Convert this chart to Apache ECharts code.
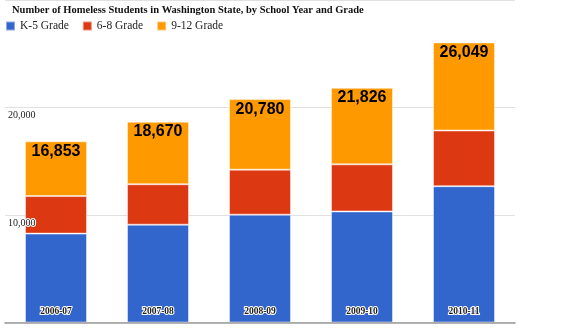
<!DOCTYPE html>
<html><head><meta charset="utf-8">
<script src="https://cdn.jsdelivr.net/npm/echarts@6/dist/echarts.min.js"></script>
<style>html,body{margin:0;padding:0;background:#fff}#c{width:576px;height:329px}</style>
</head><body><div id="c"></div>
<script>
const categories = ['2006-07','2007-08','2008-09','2009-10','2010-11'];
const k5 = [8270, 9100, 10030, 10330, 12680];
const g68 = [3490, 3760, 4190, 4380, 5180];
const g912 = [5093, 5810, 6560, 7116, 8189];
const totals = [16853, 18670, 20780, 21826, 26049];
const seriesNames = ['K-5 Grade','6-8 Grade','9-12 Grade'];
const colors = ['#3366cc','#dc3912','#ff9900'];

const chart = echarts.init(document.getElementById('c'));
const serif = '"Liberation Serif", "DejaVu Serif", serif';
const fmt = v => v.toLocaleString('en-US');
const seg = (name, data, color, extra) => Object.assign({
  name, type: 'bar', stack: 'g', data, barWidth: 62,
  itemStyle: { color, borderColor: 'rgba(255,255,255,0.45)', borderWidth: 1 },
  emphasis: { disabled: true }
}, extra || {});
const yBase = {
  type: 'value', min: 0, max: 30000, interval: 10000,
  axisLine: { show: false }, axisTick: { show: false }
};
chart.setOption({
  animation: false,
  color: colors,
  title: {
    text: 'Number of Homeless Students in Washington State, by School Year and Grade',
    left: 7, top: 0,
    textStyle: { fontFamily: serif, fontSize: 10.5, fontWeight: 'bold', color: '#111' }
  },
  legend: {
    left: 0, top: 15, itemWidth: 9, itemHeight: 9, itemGap: 13,
    icon: 'rect',
    textStyle: { fontFamily: serif, fontSize: 11.5, color: '#222' },
    data: seriesNames
  },
  grid: { left: 5, right: 61, top: -2, bottom: 6.5 },
  xAxis: {
    type: 'category', data: categories, z: 10,
    axisLine: { lineStyle: { color: '#999', width: 1.5 } },
    axisTick: { show: false },
    axisLabel: {
      inside: true, margin: 6, fontFamily: serif, fontSize: 9.5, fontWeight: 'bold',
      color: '#222', textBorderColor: '#fff', textBorderWidth: 2
    }
  },
  yAxis: [
    Object.assign({}, yBase, {
      splitLine: { lineStyle: { color: '#e0e0e0', width: 1 } },
      axisLabel: { show: false }
    }),
    Object.assign({}, yBase, {
      position: 'left', z: 10,
      splitLine: { show: false },
      axisLabel: {
        inside: true, margin: 3, verticalAlign: 'top', padding: [3,0,0,0],
        showMinLabel: false, showMaxLabel: false,
        formatter: v => fmt(v),
        fontFamily: serif, fontSize: 10, color: '#222',
        textBorderColor: '#fff', textBorderWidth: 2
      }
    })
  ],
  series: [
    seg(seriesNames[0], k5, colors[0]),
    seg(seriesNames[1], g68, colors[1]),
    seg(seriesNames[2], g912, colors[2], {
      label: {
        show: true, position: 'insideTop', distance: 2,
        formatter: p => fmt(totals[p.dataIndex]),
        fontFamily: '"Liberation Sans", Arial, sans-serif', fontSize: 16, fontWeight: 'bold', color: '#000'
      }
    })
  ]
});
</script></body></html>
